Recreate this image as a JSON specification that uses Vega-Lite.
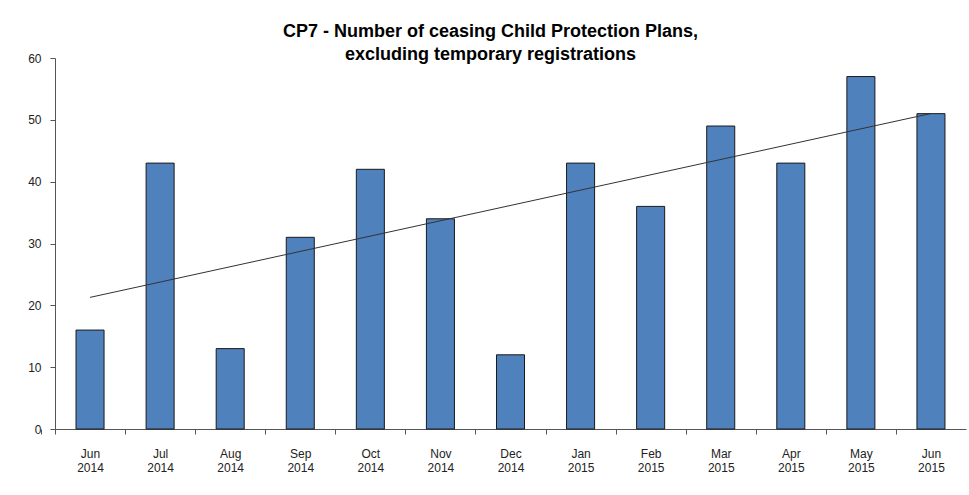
{
  "$schema": "https://vega.github.io/schema/vega-lite/v6.json",
  "autosize": "none",
  "width": 911,
  "height": 371,
  "padding": {"left": 55, "top": 58, "right": 3, "bottom": 66},
  "background": "white",
  "title": {
    "text": ["CP7 - Number of ceasing Child Protection Plans,", "excluding temporary registrations"],
    "font": "Liberation Sans",
    "fontSize": 18,
    "fontWeight": "bold",
    "color": "#000000",
    "anchor": "middle",
    "lineHeight": 23,
    "offset": -12,
    "dx": -20
  },
  "data": {
    "values": [
      {"month": "Jun 2014", "i": 0, "plans": 16},
      {"month": "Jul 2014", "i": 1, "plans": 43},
      {"month": "Aug 2014", "i": 2, "plans": 13},
      {"month": "Sep 2014", "i": 3, "plans": 31},
      {"month": "Oct 2014", "i": 4, "plans": 42},
      {"month": "Nov 2014", "i": 5, "plans": 34},
      {"month": "Dec 2014", "i": 6, "plans": 12},
      {"month": "Jan 2015", "i": 7, "plans": 43},
      {"month": "Feb 2015", "i": 8, "plans": 36},
      {"month": "Mar 2015", "i": 9, "plans": 49},
      {"month": "Apr 2015", "i": 10, "plans": 43},
      {"month": "May 2015", "i": 11, "plans": 57},
      {"month": "Jun 2015", "i": 12, "plans": 51}
    ]
  },
  "layer": [
    {
      "mark": {"type": "bar", "color": "#4f81bd", "stroke": "#1a1a1a", "strokeWidth": 1},
      "encoding": {
        "x": {
          "field": "month",
          "type": "ordinal",
          "sort": null,
          "scale": {"paddingInner": 0.6, "paddingOuter": 0.3},
          "axis": {
            "title": null,
            "labelAngle": 0,
            "labelExpr": "split(datum.label, ' ')",
            "labelFont": "Liberation Sans",
            "labelFontSize": 12,
            "labelColor": "#222222",
            "labelLineHeight": 14,
            "labelPadding": 14,
            "tickOffset": -35.04,
            "labelOffset": 35.04,
            "tickExtra": true,
            "tickSize": 5,
            "tickColor": "#555555",
            "domainColor": "#555555",
            "grid": false
          }
        },
        "y": {
          "field": "plans",
          "type": "quantitative",
          "scale": {"domain": [0, 60]},
          "axis": {
            "title": null,
            "values": [0, 10, 20, 30, 40, 50, 60],
            "labelFont": "Liberation Sans",
            "labelFontSize": 12,
            "labelColor": "#222222",
            "labelPadding": 9,
            "tickSize": 5,
            "tickColor": "#555555",
            "domainColor": "#555555",
            "grid": false
          }
        }
      }
    },
    {
      "transform": [{"regression": "plans", "on": "i", "method": "linear", "extent": [0, 12]}],
      "mark": {"type": "line", "color": "#333333", "strokeWidth": 1},
      "encoding": {
        "x": {"field": "i", "type": "quantitative", "scale": {"domain": [-0.5, 12.5], "nice": false, "zero": false}, "axis": null},
        "y": {"field": "plans", "type": "quantitative"}
      }
    }
  ],
  "resolve": {"scale": {"x": "independent"}},
  "config": {"view": {"stroke": null}}
}
